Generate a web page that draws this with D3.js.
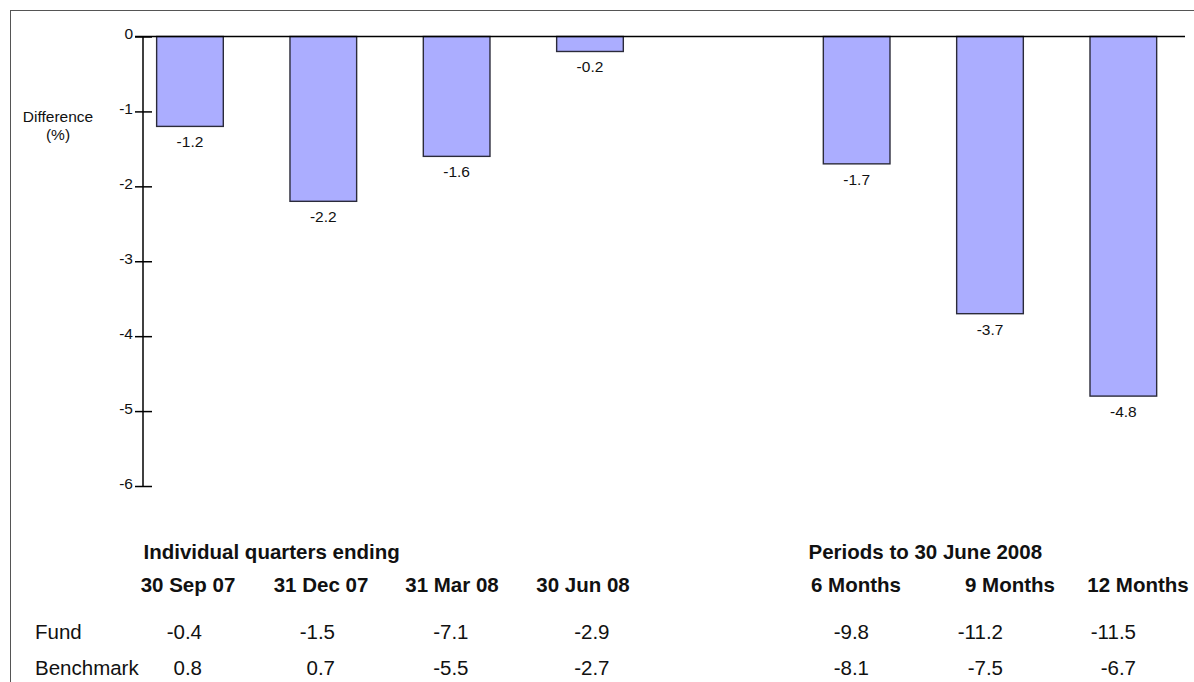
<!DOCTYPE html>
<html>
<head>
<meta charset="utf-8">
<script src="https://cdn.jsdelivr.net/npm/d3@7"></script>
<style>
  html, body { margin: 0; padding: 0; background: #fff; }
  svg { display: block; font-family: "Liberation Sans", Arial, sans-serif; }
</style>
</head>
<body>
<svg id="chart" width="1194" height="682"></svg>
<script>
// Periods shown as bars; "" marks the empty spacer slot between the two groups
const slots = ["30 Sep 07", "31 Dec 07", "31 Mar 08", "30 Jun 08", "", "6 Months", "9 Months", "12 Months"];
const periods = ["30 Sep 07", "31 Dec 07", "31 Mar 08", "30 Jun 08", "6 Months", "9 Months", "12 Months"];
const difference = [-1.2, -2.2, -1.6, -0.2, -1.7, -3.7, -4.8];
const fundReturns = ["-0.4", "-1.5", "-7.1", "-2.9", "-9.8", "-11.2", "-11.5"];
const benchmarkReturns = ["0.8", "0.7", "-5.5", "-2.7", "-8.1", "-7.5", "-6.7"];
const yTicks = [0, -1, -2, -3, -4, -5, -6];
const groupTitles = ["Individual quarters ending", "Periods to 30 June 2008"];
const rowLabels = ["Fund", "Benchmark"];

// Table layout (pixel columns)
const headerCenterX = [188, 321, 452, 583, 856, 1010, 1138];
const valueRightX = [202, 335, 468.5, 609.5, 869, 1003, 1136];
const groupTitleX = [143.5, 808.5];

// Plain hyphen-minus number formatting
const fmt1 = v => v.toFixed(1);
const fmt0 = v => String(v);

const svg = d3.select("#chart");

// Outer frame
svg.append("rect")
  .attr("x", 10.5).attr("y", 10.5)
  .attr("width", 1300).attr("height", 800)
  .attr("fill", "none").attr("stroke", "#555").attr("stroke-width", 1);

const axisX = 143;
const x = d3.scaleBand().domain(slots).range([123.3, 1190]).paddingInner(0.5).paddingOuter(0.25);
const y = d3.scaleLinear().domain([0, -6]).range([36.5, 486]);

const barData = periods.map((p, i) => ({ p, v: difference[i] }));

// Bars
svg.append("g").selectAll("rect")
  .data(barData)
  .join("rect")
  .attr("x", d => x(d.p))
  .attr("y", y(0))
  .attr("width", x.bandwidth())
  .attr("height", d => y(d.v) - y(0))
  .attr("fill", "#abadff")
  .attr("stroke", "#2b2b3a")
  .attr("stroke-width", 1.4);

// Bar value labels
svg.append("g").selectAll("text")
  .data(barData)
  .join("text")
  .attr("x", d => x(d.p) + x.bandwidth() / 2)
  .attr("y", d => y(d.v) + 21)
  .attr("text-anchor", "middle")
  .attr("font-size", "15.5px")
  .attr("fill", "#111")
  .text(d => fmt1(d.v));

// Zero line across the plot
svg.append("line")
  .attr("x1", 135).attr("x2", 1185)
  .attr("y1", y(0)).attr("y2", y(0))
  .attr("stroke", "#000").attr("stroke-width", 1.5);

// Y axis with ticks crossing the axis line
const yAxis = d3.axisLeft(y).tickValues(yTicks).tickSize(0).tickPadding(10)
  .tickFormat(fmt0);
const gy = svg.append("g").attr("transform", `translate(${axisX},0)`).call(yAxis);
gy.select(".domain").attr("stroke", "#000").attr("stroke-width", 1.5).attr("d", `M0,${y(0)}V${y(-6)}`);
gy.selectAll(".tick text")
  .attr("font-size", "15.5px")
  .attr("font-family", "Liberation Sans, Arial, sans-serif")
  .attr("fill", "#111")
  .attr("dy", "0.13em");
gy.selectAll(".tick").append("line")
  .attr("x1", -8).attr("x2", 9)
  .attr("stroke", "#000").attr("stroke-width", 1.5);

// Y axis title
const yTitle = svg.append("text")
  .attr("text-anchor", "middle")
  .attr("font-size", "15.5px")
  .attr("fill", "#111");
yTitle.append("tspan").attr("x", 58).attr("y", 122).text("Difference");
yTitle.append("tspan").attr("x", 58).attr("y", 140).text("(%)");

// Table: group titles
svg.append("g").selectAll("text")
  .data(groupTitles)
  .join("text")
  .attr("x", (d, i) => groupTitleX[i])
  .attr("y", 559)
  .attr("font-size", "20.5px")
  .attr("font-weight", "bold")
  .attr("fill", "#111")
  .text(d => d);

// Table: column headers
svg.append("g").selectAll("text")
  .data(periods)
  .join("text")
  .attr("x", (d, i) => headerCenterX[i])
  .attr("y", 592)
  .attr("text-anchor", "middle")
  .attr("font-size", "20.5px")
  .attr("font-weight", "bold")
  .attr("fill", "#111")
  .text(d => d);

// Table: row labels and values
const rows = [fundReturns, benchmarkReturns];
const rowY = [639, 675];
rows.forEach((vals, r) => {
  svg.append("text")
    .attr("x", 35).attr("y", rowY[r])
    .attr("font-size", "20.5px")
    .attr("fill", "#111")
    .text(rowLabels[r]);
  svg.append("g").selectAll("text")
    .data(vals)
    .join("text")
    .attr("x", (d, i) => valueRightX[i])
    .attr("y", rowY[r])
    .attr("text-anchor", "end")
    .attr("font-size", "20.5px")
    .attr("fill", "#111")
    .text(d => d);
});
</script>
</body>
</html>
